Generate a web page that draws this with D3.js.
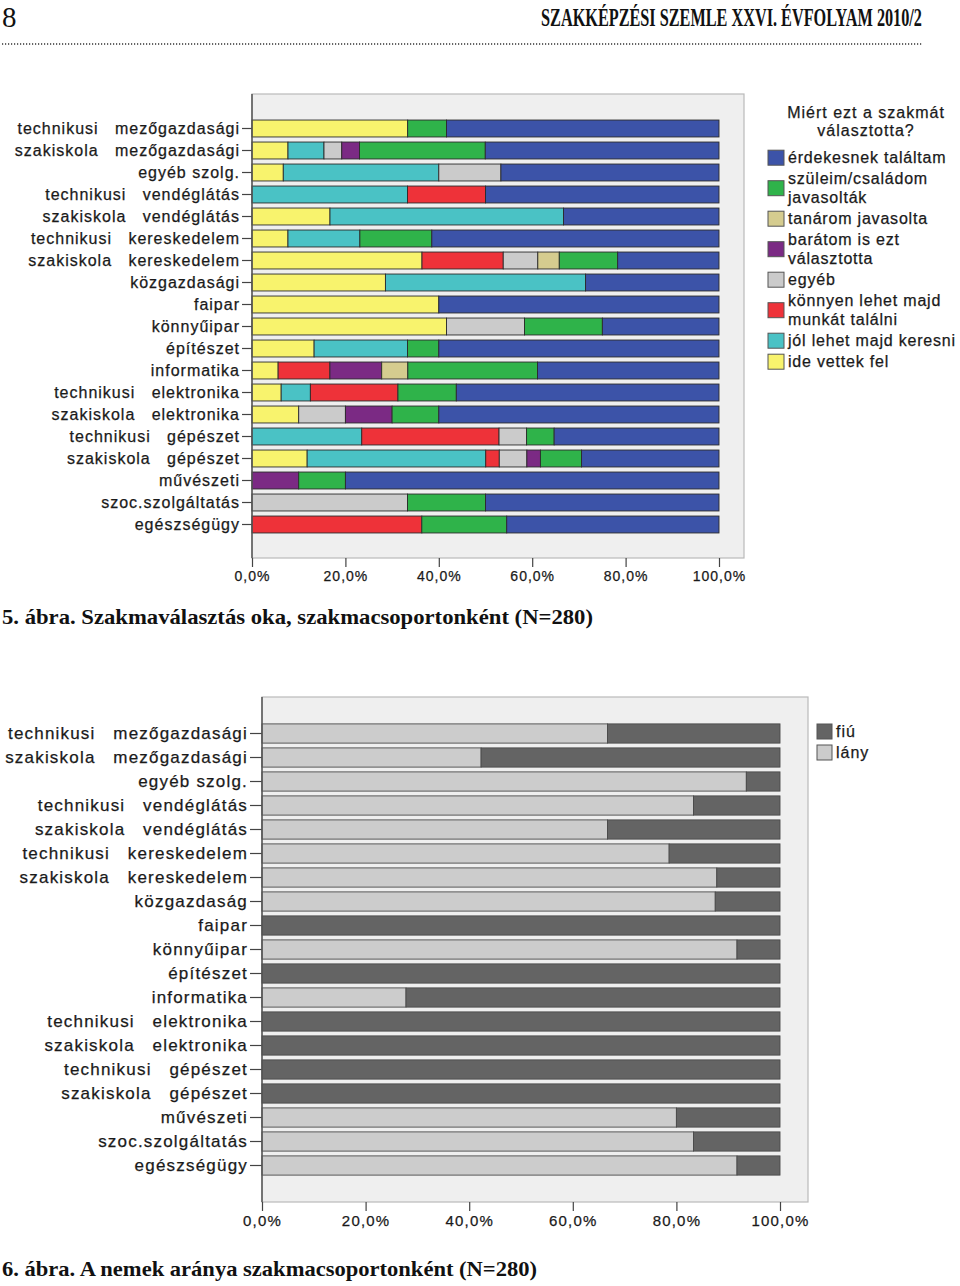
<!DOCTYPE html>
<html><head><meta charset="utf-8">
<script src="https://cdn.jsdelivr.net/npm/d3@7"></script>
<style>
body{margin:0;background:#fff;}
svg{display:block;}
text{font-family:"Liberation Sans",Arial,sans-serif;fill:#1a1a1a;stroke:#1a1a1a;stroke-width:0.25px;}
.serif{font-family:"Liberation Serif","Times New Roman",serif;fill:#111;stroke:none;}
</style></head><body>
<svg id="c" width="960" height="1286"></svg>
<script>
// ---------- DATA ----------
const categories = [
  "technikusi   mezőgazdasági","szakiskola   mezőgazdasági","egyéb szolg.",
  "technikusi   vendéglátás","szakiskola   vendéglátás","technikusi   kereskedelem",
  "szakiskola   kereskedelem","közgazdasági","faipar","könnyűipar","építészet",
  "informatika","technikusi   elektronika","szakiskola   elektronika",
  "technikusi   gépészet","szakiskola   gépészet","művészeti","szoc.szolgáltatás","egészségügy"
];
const categories2 = [
  "technikusi   mezőgazdasági","szakiskola   mezőgazdasági","egyéb szolg.",
  "technikusi   vendéglátás","szakiskola   vendéglátás","technikusi   kereskedelem",
  "szakiskola   kereskedelem","közgazdaság","faipar","könnyűipar","építészet",
  "informatika","technikusi   elektronika","szakiskola   elektronika",
  "technikusi   gépészet","szakiskola   gépészet","művészeti","szoc.szolgáltatás","egészségügy"
];
// reasons (legend order, top to bottom)
const reasonLabels = [
  ["érdekesnek találtam"],
  ["szüleim/családom","javasolták"],
  ["tanárom javasolta"],
  ["barátom is ezt","választotta"],
  ["egyéb"],
  ["könnyen lehet majd","munkát találni"],
  ["jól lehet majd keresni"],
  ["ide vettek fel"]
];
const reasonColors = ["#3c53a8","#2fb34a","#d5cc8f","#7b2a84","#cbcbcb","#ee3239","#4ac2c5","#f8f36d"];
const erdekes  = [58.3,50.0,46.7,50.0,33.3,61.5,21.7,28.6,60.0,25.0,60.0,38.9,56.25,60.0,35.3,29.4,80.0,50.0,45.5];
const szuleim  = [8.3,26.9,0,0,0,15.4,12.5,0,0,16.7,6.7,27.8,12.5,10.0,5.9,8.8,10.0,16.7,18.2];
const tanarom  = [0,0,0,0,0,0,4.6,0,0,0,0,5.6,0,0,0,0,0,0,0];
const baratom  = [0,3.8,0,0,0,0,0,0,0,0,0,11.1,0,10.0,0,2.9,10.0,0,0];
const egyeb    = [0,3.8,13.3,0,0,0,7.4,0,0,16.7,0,0,0,10.0,5.9,5.9,0,33.3,0];
const konnyen  = [0,0,0,16.7,0,0,17.4,0,0,0,0,11.1,18.75,0,29.4,2.9,0,0,36.4];
const jolKeres = [0,7.7,33.3,33.3,50.0,15.4,0,42.9,0,0,20.0,0,6.25,0,23.5,38.2,0,0,0];
const ideVett  = [33.3,7.7,6.7,0,16.7,7.7,36.4,28.6,40.0,41.7,13.3,5.6,6.25,10.0,0,11.8,0,0,0];
const reasonSeries = [erdekes,szuleim,tanarom,baratom,egyeb,konnyen,jolKeres,ideVett];

const genderLabels = ["fiú","lány"];
const genderColors = ["#646464","#cccccc"];
const lany = [66.7,42.3,93.5,83.3,66.7,78.6,87.8,87.5,0,91.7,0,27.8,0,0,0,0,80.0,83.3,91.7];
const fiu  = [33.3,57.7,6.5,16.7,33.3,21.4,12.2,12.5,100,8.3,100,72.2,100,100,100,100,20.0,16.7,8.3];

const tickValues = [0,20,40,60,80,100];
const fmt = d => d.toFixed(1).replace(".",",") + "%";

// ---------- DRAW ----------
const svg = d3.select("#c");

// header
svg.append("text").attr("class","serif").attr("x",2).attr("y",27).attr("font-size",29).text("8");
const hg = svg.append("g");
const ht = hg.append("text").attr("class","serif").attr("x",0).attr("y",0).attr("font-size",25)
  .attr("font-weight","bold").attr("text-anchor","end")
  .text("SZAKKÉPZÉSI SZEMLE XXVI. ÉVFOLYAM 2010/2");
const hw = ht.node().getComputedTextLength();
hg.attr("transform",`translate(922,26) scale(${381/hw},1)`);
svg.append("line").attr("x1",2).attr("x2",922).attr("y1",44).attr("y2",44)
  .attr("stroke","#333").attr("stroke-width",1.6).attr("stroke-dasharray","1.2 1.8");

function drawChart(opt){
  const g = svg.append("g");
  const x = d3.scaleLinear().domain([0,100]).range([opt.x0, opt.x1]);
  const y = d3.scaleBand().domain(opt.cats).range(opt.yRange)
    .paddingInner(opt.padIn).paddingOuter(opt.padOut);
  g.append("rect").attr("x",opt.frame[0]).attr("y",opt.frame[1])
    .attr("width",opt.frame[2]).attr("height",opt.frame[3])
    .attr("fill","#efefef").attr("stroke","#b9b9b9").attr("stroke-width",1.2);
  const rows = opt.cats.map((c,i)=>{
    const r = {cat:c};
    opt.keys.forEach((k,j)=> r[k] = opt.series[j][i]);
    return r;
  });
  const stack = d3.stack().keys(opt.stackKeys).offset(d3.stackOffsetExpand)(rows);
  g.selectAll("g.layer").data(stack).join("g").attr("class","layer")
    .attr("fill", s => opt.colorOf(s.key))
    .selectAll("rect").data(s => s.filter(d => d[1]-d[0] > 0.0001)).join("rect")
    .attr("x", d => x(d[0]*100))
    .attr("width", d => x(d[1]*100) - x(d[0]*100))
    .attr("y", d => y(d.data.cat))
    .attr("height", y.bandwidth())
    .attr("stroke", opt.barStroke).attr("stroke-width", 0.9);
  // x axis
  const xa = g.append("g").attr("transform",`translate(0,${opt.frame[1]+opt.frame[3]})`)
    .call(d3.axisBottom(x).tickValues(tickValues).tickFormat(fmt).tickSize(opt.xTick).tickPadding(4));
  xa.select(".domain").remove();
  xa.selectAll("line").attr("stroke","#444").attr("stroke-width",1.2);
  xa.selectAll("text").attr("font-size",opt.xFont).attr("letter-spacing",opt.xLS)
    .attr("fill","#222").attr("font-family","'Liberation Sans',Arial,sans-serif");
  // y axis
  const ya = g.append("g").attr("transform",`translate(${opt.x0},0)`)
    .call(d3.axisLeft(y).tickSize(opt.yTick).tickPadding(2));
  ya.select(".domain").remove();
  ya.selectAll("line").attr("stroke","#444").attr("stroke-width",1.2);
  ya.selectAll("text").attr("font-size",opt.yFont).attr("letter-spacing",opt.yLS)
    .attr("fill","#1a1a1a").attr("font-family","'Liberation Sans',Arial,sans-serif")
    .style("white-space","pre");
  g.append("line").attr("x1",opt.x0).attr("x2",opt.x0)
    .attr("y1",opt.frame[1]).attr("y2",opt.frame[1]+opt.frame[3])
    .attr("stroke","#555").attr("stroke-width",1.5);
  return g;
}

// chart 1
const reasonKeys = reasonLabels.map(l => l.join(" "));
drawChart({
  cats: categories, keys: reasonKeys, series: reasonSeries,
  stackKeys: reasonKeys.slice().reverse(),
  colorOf: k => reasonColors[reasonKeys.indexOf(k)],
  x0:252, x1:719, yRange:[117.5,535.5], padIn:0.23, padOut:0.115,
  frame:[252,94,492,464], barStroke:"#2b2b2b",
  xTick:9, xFont:14, xLS:1, yTick:10, yFont:16, yLS:1
});
// legend 1
const lg = svg.append("g");
lg.append("text").attr("x",866).attr("y",118).attr("text-anchor","middle")
  .attr("font-size",16).attr("letter-spacing",1).text("Miért ezt a szakmát");
lg.append("text").attr("x",866).attr("y",136).attr("text-anchor","middle")
  .attr("font-size",16).attr("letter-spacing",1).text("választotta?");
let cy = 157.7;
reasonLabels.forEach((lines,i)=>{
  const n = lines.length;
  const sc = cy + (n-1)*19/2;
  lg.append("rect").attr("x",768).attr("y",sc-7.5).attr("width",16).attr("height",15)
    .attr("fill",reasonColors[i]).attr("stroke","#555").attr("stroke-width",1);
  lines.forEach((t,k)=>{
    lg.append("text").attr("x",788).attr("y",cy + k*19 + 5.5)
      .attr("font-size",16).attr("letter-spacing",0.8).text(t);
  });
  cy += n*19 + 2;
});
svg.append("text").attr("class","serif").attr("x",2).attr("y",624).attr("font-size",22)
  .attr("font-weight","bold")
  .attr("textLength",591).attr("lengthAdjust","spacingAndGlyphs")
  .text("5. ábra. Szakmaválasztás oka, szakmacsoportonként (N=280)");

// chart 2
drawChart({
  cats: categories2, keys: genderLabels, series: [fiu, lany],
  stackKeys: ["lány","fiú"],
  colorOf: k => genderColors[genderLabels.indexOf(k)],
  x0:262, x1:780, yRange:[721.5,1177.5], padIn:0.2, padOut:0.1,
  frame:[262,697,546,505], barStroke:"#4a4a4a",
  xTick:9, xFont:15, xLS:1.2, yTick:12, yFont:17, yLS:1.2
});
const lg2 = svg.append("g");
genderLabels.forEach((t,i)=>{
  lg2.append("rect").attr("x",817).attr("y",724+i*21).attr("width",15).attr("height",15)
    .attr("fill",genderColors[i]).attr("stroke","#555").attr("stroke-width",1);
  lg2.append("text").attr("x",836).attr("y",737+i*21).attr("font-size",16)
    .attr("letter-spacing",1).text(t);
});
svg.append("text").attr("class","serif").attr("x",2).attr("y",1276).attr("font-size",22)
  .attr("font-weight","bold")
  .attr("textLength",535).attr("lengthAdjust","spacingAndGlyphs")
  .text("6. ábra. A nemek aránya szakmacsoportonként (N=280)");
</script>
</body></html>
